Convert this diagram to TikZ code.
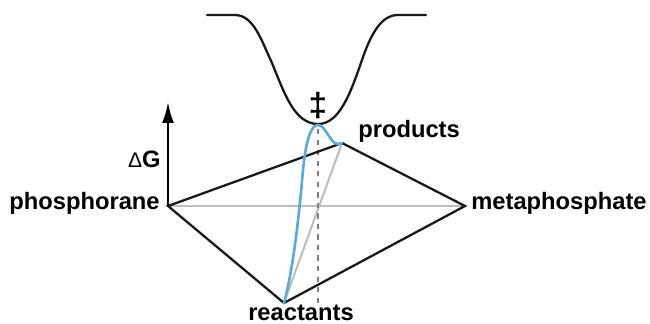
\documentclass[tikz,border=0pt]{standalone}
\usepackage{xcolor}
\usepackage{fontspec}
\setmainfont{Liberation Sans}
\usetikzlibrary{
    positioning,
    arrows.meta
}
\definecolor{pathblue}{HTML}{5AAADC}
\definecolor{planegray}{HTML}{BEBEBE}

\begin{document}
\begin{tikzpicture}[
    x=0.02cm,
    y=-0.02cm,
    label/.style={
        font=\bfseries\fontsize{13.5}{15}\selectfont,
        inner sep=0pt
    },
    edge/.style={line width=1.3pt, black!90},
    plane/.style={line width=1.2pt, planegray},
    arrow/.style={-{Latex[length=0.42cm,width=0.24cm]}, line width=1.3pt},
    barrier/.style={line width=1.3pt, black!90, line cap=round},
    pathway/.style={line width=1.5pt, pathblue, line cap=round}
]
\useasboundingbox (0,0) rectangle (650,324);

\coordinate (phos) at (168,206);
\coordinate (meta) at (465,206);
\coordinate (prod) at (342,143);
\coordinate (reac) at (284,303);
\coordinate (center) at (318,206);
\coordinate (saddle) at (318,125);
\coordinate (axis) at (168,102);
\coordinate (dashstart) at (318,129);
\coordinate (dashend) at (318,306);
\coordinate (barrierleft) at (207,15);
\coordinate (barrierright) at (426,15);

% plane
\draw[plane] (phos) -- (meta);
\draw[plane] (reac) -- (prod);
\draw[dashed, line width=0.8pt, black!50] (dashstart) -- (dashend);

\draw[edge, line join=miter] (phos) -- (prod) -- (meta) -- (reac) -- cycle;
\draw[arrow] (phos) -- (axis);

% curves
\draw[barrier] (barrierleft) -- (235,15)
    .. controls (254,15) and (262,42) .. (272,63)
    .. controls (284,92) and (294,124) .. (318,124)
    .. controls (340,124) and (351,92) .. (363,57)
    .. controls (372,32) and (382,15) .. (398,15)
    -- (barrierright);
\draw[pathway] (reac) .. controls (294,265) and (299,215) .. (303,170)
    .. controls (306,140) and (311,125) .. (saddle)
    .. controls (327,125) and (331,150) .. (prod);

% labels
\node[label] (dagger) at (318,106) {\fontsize{19}{19}\selectfont ‡};
\node[label, anchor=west] (products) at (358,131) {products};
\node[label, anchor=east] (dg) at (161,159) {{\normalfont\fontsize{12}{12}\selectfont Δ}G};
\node[label, anchor=east] (phosphorane) at (160,203) {phosphorane};
\node[label, anchor=west] (metaphosphate) at (471,203) {metaphosphate};
\node[label] (reactants) at (301,313) {reactants};
\end{tikzpicture}
\end{document}
